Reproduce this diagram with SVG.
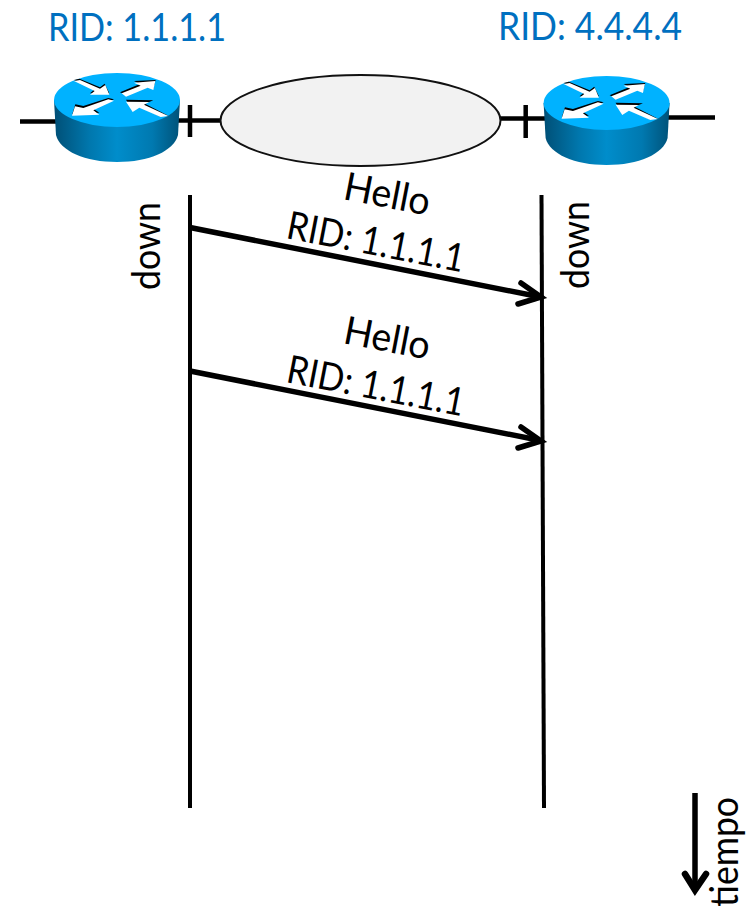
<svg xmlns="http://www.w3.org/2000/svg" width="755" height="906" viewBox="0 0 755 906">
<style>
text{font-family:"Lato","Open Sans","Liberation Sans",sans-serif;fill:#000}
.rid{fill:#0070c0;font-size:39px}
.msg{font-size:39px}
.ln{fill:none;stroke:#000;stroke-width:4.500}
.ah{fill:none;stroke:#000;stroke-width:5.500;stroke-linecap:round;stroke-linejoin:miter}
.w{fill:#fff}
.k{fill:#000}
</style>
<defs>
<linearGradient id="body" x1="0" x2="1" y1="0" y2="0">
<stop offset="0" stop-color="#004f76"/>
<stop offset=".28" stop-color="#0077ad"/>
<stop offset=".5" stop-color="#008dcb"/>
<stop offset=".78" stop-color="#0079b0"/>
<stop offset="1" stop-color="#005279"/>
</linearGradient>
<g id="router">
<path d="M54 100L56 135C60 151 85 162 117 162C149 162 174 151 178 135L180 100Z" fill="url(#body)"/>
<ellipse cx="117" cy="100" rx="63" ry="27" fill="#00b2ff"/>
<g transform="scale(.33333)">
<path class="k" d="M222 240L238 236L300 262L314 251L328 280L270 280L284 268Z"/>
<path class="w" d="M222 243L240 240L300 266L316 255L328 284L270 284L284 273Z"/>
<path class="k" d="M360 277L420 252L402 243L467 240L460 265L443 258L378 284Z"/>
<path class="w" d="M365 280L422 257L402 248L466 243L460 270L443 263L378 290Z"/>
<path class="k" d="M342 298L280 326L298 338L217 342L226 313L250 318L325 294Z"/>
<path class="w" d="M342 302L280 331L298 344L216 347L225 319L250 324L325 298Z"/>
<path class="k" d="M378 299L460 301L435 311L505 347L480 349L418 320L398 333Z"/>
<path class="w" d="M378 305L448 306L432 314L505 348L482 351L418 323L398 336Z"/>
</g>
</g>
</defs>
<g id="connectors">
<path class="ln" d="M20 121.500H56"/>
<path class="ln" d="M178 120.500H222"/>
<path class="ln" d="M190 105V137"/>
<path class="ln" d="M500 118.500H546"/>
<path class="ln" d="M525.700 105V138"/>
<path class="ln" d="M668 117.500H715"/>
<path class="ln" style="stroke-width:4" d="M190 195V808"/>
<path class="ln" style="stroke-width:4" d="M541.500 195L544 808"/>
<path class="ln" style="stroke-width:5.500" d="M190 227.500L538 296.500"/>
<path class="ah" d="M521 283L541 297L518 304"/>
<path class="ln" style="stroke-width:5.500" d="M190 371L538 440"/>
<path class="ah" d="M521 427L541 441L518 448"/>
<path class="ln" style="stroke-width:5.500" d="M695 793V888"/>
<path class="ah" style="stroke-width:6.500" d="M685 874L695 890L706 874"/>
</g>
<g id="cloud"><ellipse cx="360.500" cy="120.500" rx="140" ry="45.500" fill="#f2f2f2" stroke="#111" stroke-width="2"/></g>
<g id="router1"><use href="#router"/><text class="rid" x="48" y="41" textLength="178" lengthAdjust="spacingAndGlyphs">RID: 1.1.1.1</text></g>
<g id="router2"><use href="#router" transform="translate(489.600 3)"/><text class="rid" x="498" y="40" textLength="184" lengthAdjust="spacingAndGlyphs">RID: 4.4.4.4</text></g>
<g id="msg1">
<text class="msg" transform="translate(342 199) rotate(11)" textLength="87" lengthAdjust="spacingAndGlyphs">Hello</text>
<text class="msg" transform="translate(285 238) rotate(11)" textLength="180" lengthAdjust="spacingAndGlyphs">RID: 1.1.1.1</text>
</g>
<g id="msg2">
<text class="msg" transform="translate(342 343) rotate(11)" textLength="87" lengthAdjust="spacingAndGlyphs">Hello</text>
<text class="msg" transform="translate(285 382) rotate(11)" textLength="180" lengthAdjust="spacingAndGlyphs">RID: 1.1.1.1</text>
</g>
<g id="labels">
<text class="msg" transform="translate(160 290) rotate(-90)" textLength="88" lengthAdjust="spacingAndGlyphs">down</text>
<text class="msg" transform="translate(589 289) rotate(-90)" textLength="88" lengthAdjust="spacingAndGlyphs">down</text>
<text class="msg" transform="translate(738 907) rotate(-90)" textLength="110" lengthAdjust="spacingAndGlyphs">tiempo</text>
</g>
</svg>
